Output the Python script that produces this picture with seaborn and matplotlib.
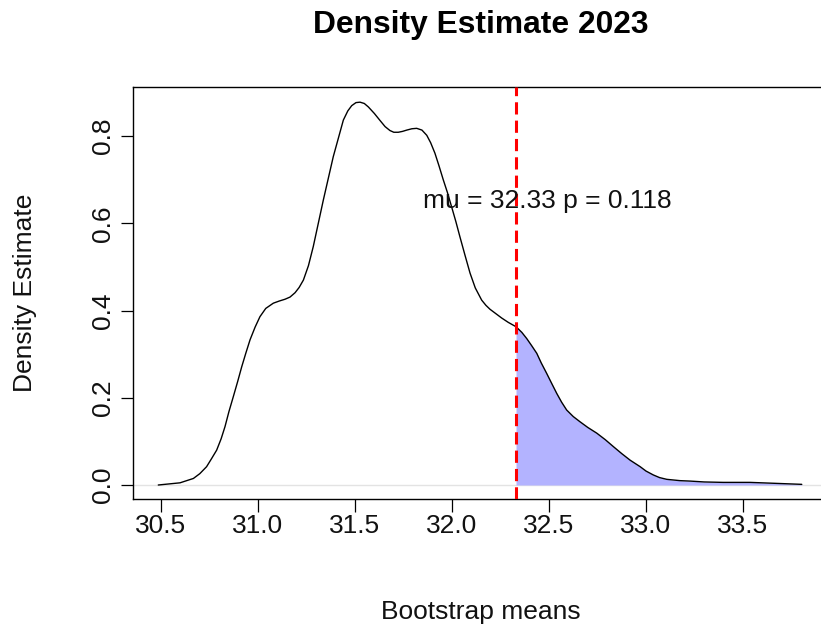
import matplotlib
matplotlib.use("Agg")
import matplotlib.pyplot as plt
import seaborn as sns
import pandas as pd

# ---- data ----
density_x = [30.486, 30.598, 30.667, 30.700, 30.735, 30.760, 30.787, 30.810, 30.830,
             30.850, 30.873, 30.895, 30.916, 30.937, 30.959, 30.985, 31.010, 31.040,
             31.079, 31.110, 31.139, 31.165, 31.191, 31.212, 31.234, 31.260, 31.285,
             31.337, 31.388, 31.440, 31.463, 31.483, 31.505, 31.526, 31.548, 31.569,
             31.600, 31.629, 31.655, 31.680, 31.700, 31.723, 31.745, 31.767, 31.793,
             31.818, 31.845, 31.870, 31.890, 31.912, 31.933, 31.955, 31.977, 31.998,
             32.020, 32.041, 32.067, 32.093, 32.120, 32.153, 32.175, 32.196, 32.226,
             32.256, 32.290, 32.330, 32.360, 32.385, 32.410, 32.437, 32.460, 32.488,
             32.515, 32.540, 32.565, 32.591, 32.625, 32.660, 32.700, 32.746, 32.790,
             32.832, 32.875, 32.918, 32.970, 33.000, 33.038, 33.070, 33.107, 33.175,
             33.227, 33.300, 33.398, 33.536, 33.656, 33.803]
density_y = [0.000, 0.005, 0.015, 0.026, 0.042, 0.060, 0.080, 0.106, 0.134,
             0.168, 0.203, 0.237, 0.271, 0.302, 0.333, 0.362, 0.386, 0.405,
             0.417, 0.422, 0.426, 0.431, 0.441, 0.453, 0.470, 0.503, 0.547,
             0.654, 0.753, 0.837, 0.858, 0.870, 0.877, 0.878, 0.875, 0.867,
             0.852, 0.836, 0.822, 0.813, 0.809, 0.809, 0.811, 0.814, 0.817,
             0.818, 0.814, 0.802, 0.785, 0.761, 0.732, 0.700, 0.670, 0.638,
             0.604, 0.569, 0.527, 0.486, 0.452, 0.424, 0.412, 0.403, 0.393,
             0.383, 0.373, 0.363, 0.350, 0.336, 0.320, 0.302, 0.280, 0.256,
             0.232, 0.210, 0.190, 0.172, 0.157, 0.145, 0.132, 0.119, 0.104,
             0.088, 0.072, 0.057, 0.042, 0.032, 0.023, 0.017, 0.013, 0.010,
             0.009, 0.007, 0.006, 0.006, 0.004, 0.0015]
mu = 32.33
p_value = 0.118
x_ticks = [30.5, 31.0, 31.5, 32.0, 32.5, 33.0, 33.5]
y_ticks = [0.0, 0.2, 0.4, 0.6, 0.8]
title = "Density Estimate 2023"
x_label = "Bootstrap means"
y_label = "Density Estimate"

df = pd.DataFrame({"x": density_x, "y": density_y})
tail = df[df["x"] >= mu]

sns.set_theme(style="white")
plt.rcParams["font.family"] = ["Liberation Sans", "DejaVu Sans"]

W, H = 821, 629
fig = plt.figure(figsize=(W / 100, H / 100), dpi=100)
ax = fig.add_axes([133 / W, (H - 499) / H, (827 - 133) / W, (499 - 87) / H])

# zero line
ax.axhline(0, color="#e3e3e3", lw=1.0, zorder=1)
# shaded tail
ax.fill_between(tail["x"], 0, tail["y"], color="#b3b3ff", linewidth=0, zorder=2)
# density curve
sns.lineplot(data=df, x="x", y="y", color="black", lw=1.0, ax=ax, zorder=3,
             sort=True, estimator=None)
for ln in ax.lines:
    ln.set_solid_joinstyle("round")
# mu line
ax.axvline(mu, color="#ff0000", lw=2.2, dashes=(4, 2), zorder=4)
ax.text(32.49, 0.652, f"mu = {mu:.2f} p = {p_value}", ha="center", va="center",
        fontsize=19, color="#111111", zorder=5)

ax.set_xlim(30.3557, 33.933)
ax.set_ylim(-0.0321, 0.9128)
ax.set_xticks(x_ticks)
ax.set_xticklabels([f"{v:.1f}" for v in x_ticks])
ax.set_yticks(y_ticks)
ax.set_yticklabels([f"{v:.1f}" for v in y_ticks])

for s in ax.spines.values():
    s.set_visible(True)
    s.set_color("black")
    s.set_linewidth(1.0)

ax.tick_params(axis="both", direction="out", length=9, width=0.9, color="black",
               labelsize=19, labelcolor="#111111", bottom=True, left=True)
ax.tick_params(axis="x", pad=2)
ax.tick_params(axis="y", pad=4)
for lab in ax.get_yticklabels():
    lab.set_rotation(90)
    lab.set_va("center")

ax.set_xlabel(x_label, fontsize=19, color="#111111")
ax.xaxis.set_label_coords((480.5 - 133) / (827 - 133), (499 - 612) / 412)
ax.xaxis.label.set_va("center")
ax.set_ylabel(y_label, fontsize=19, color="#111111")
ax.yaxis.set_label_coords((25 - 133) / (827 - 133), 0.5)
ax.yaxis.label.set_va("center")

fig.text(480.5 / W, 1 - 25 / H, title, ha="center", va="center",
         fontsize=22.9, fontweight="bold", color="black")

fig.savefig("out.png", dpi=100, facecolor="white")
